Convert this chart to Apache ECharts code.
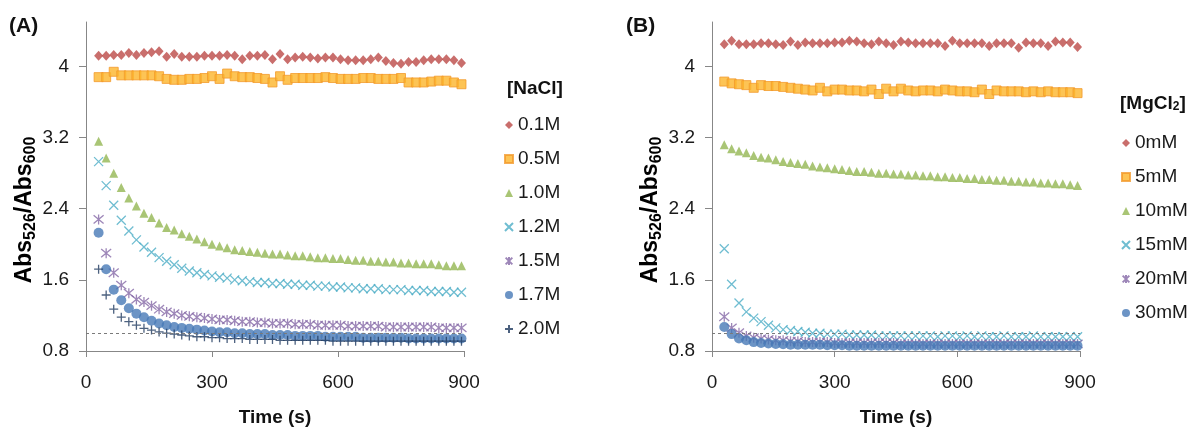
<!DOCTYPE html>
<html>
<head>
<meta charset="utf-8">
<script src="https://cdn.jsdelivr.net/npm/echarts@6/dist/echarts.min.js"></script>
<style>
  html, body { margin: 0; padding: 0; background: #fff; }
  #chart { width: 1191px; height: 432px; }
</style>
</head>
<body>
<div id="chart"></div>
<script>
// Sampling times (s), shared by both panels
const time = [
  30, 48, 66, 84, 102, 120, 138, 156, 174, 192,
  210, 228, 246, 264, 282, 300, 318, 336, 354, 372,
  390, 408, 426, 444, 462, 480, 498, 516, 534, 552,
  570, 588, 606, 624, 642, 660, 678, 696, 714, 732,
  750, 768, 786, 804, 822, 840, 858, 876, 894
];

const yTicks = [0.8, 1.6, 2.4, 3.2, 4];
const xTicks = [0, 300, 600, 900];

// Panel A: [NaCl]
const naclLabels = ['0.1M', '0.5M', '1.0M', '1.2M', '1.5M', '1.7M', '2.0M'];
const nacl01 = [
  4.12, 4.12, 4.13, 4.13, 4.15, 4.13, 4.15, 4.16, 4.17, 4.11,
  4.14, 4.11, 4.11, 4.11, 4.12, 4.12, 4.12, 4.13, 4.12, 4.08,
  4.12, 4.12, 4.13, 4.08, 4.14, 4.08, 4.10, 4.11, 4.10, 4.09,
  4.10, 4.10, 4.08, 4.07, 4.07, 4.07, 4.08, 4.10, 4.06, 4.04,
  4.03, 4.05, 4.05, 4.07, 4.08, 4.08, 4.08, 4.07, 4.04
];
const nacl05 = [
  3.88, 3.88, 3.94, 3.90, 3.90, 3.90, 3.90, 3.90, 3.89, 3.86,
  3.85, 3.85, 3.86, 3.86, 3.87, 3.89, 3.86, 3.92, 3.89, 3.88,
  3.88, 3.87, 3.86, 3.82, 3.89, 3.85, 3.87, 3.87, 3.87, 3.87,
  3.88, 3.87, 3.86, 3.86, 3.86, 3.87, 3.87, 3.86, 3.86, 3.86,
  3.87, 3.82, 3.82, 3.82, 3.83, 3.84, 3.84, 3.82, 3.80
];
const nacl10 = [
  3.16, 2.97, 2.80, 2.64, 2.52, 2.43, 2.35, 2.30, 2.24, 2.19,
  2.16, 2.12, 2.09, 2.06, 2.03, 2.00, 1.98, 1.96, 1.94, 1.93,
  1.92, 1.91, 1.90, 1.89, 1.89, 1.88, 1.87, 1.87, 1.86, 1.85,
  1.85, 1.84, 1.84, 1.83, 1.82, 1.82, 1.81, 1.81, 1.80, 1.80,
  1.79, 1.79, 1.78, 1.78, 1.78, 1.77, 1.76, 1.76, 1.76
];
const nacl12 = [
  2.93, 2.66, 2.44, 2.27, 2.15, 2.05, 1.97, 1.91, 1.85, 1.81,
  1.77, 1.73, 1.70, 1.68, 1.66, 1.645, 1.63, 1.62, 1.60, 1.59,
  1.58, 1.57, 1.57, 1.56, 1.56, 1.55, 1.55, 1.54, 1.54, 1.53,
  1.53, 1.52, 1.52, 1.51, 1.51, 1.50, 1.50, 1.50, 1.49, 1.49,
  1.49, 1.48, 1.48, 1.48, 1.47, 1.47, 1.47, 1.46, 1.46
];
const nacl15 = [
  2.28, 1.90, 1.68, 1.54, 1.45, 1.38, 1.35, 1.31, 1.27, 1.24,
  1.22, 1.20, 1.19, 1.18, 1.17, 1.16, 1.15, 1.15, 1.14, 1.13,
  1.13, 1.12, 1.12, 1.11, 1.11, 1.11, 1.10, 1.10, 1.10, 1.09,
  1.09, 1.09, 1.09, 1.08, 1.08, 1.08, 1.08, 1.08, 1.07, 1.07,
  1.07, 1.07, 1.07, 1.07, 1.07, 1.06, 1.06, 1.06, 1.06
];
const nacl17 = [
  2.13, 1.72, 1.49, 1.37, 1.28, 1.22, 1.18, 1.14, 1.11, 1.09,
  1.07, 1.06, 1.05, 1.04, 1.03, 1.02, 1.01, 1.01, 1.00, 1.00,
  0.99, 0.99, 0.99, 0.98, 0.98, 0.98, 0.97, 0.97, 0.97, 0.97,
  0.96, 0.96, 0.96, 0.96, 0.96, 0.95, 0.95, 0.95, 0.95, 0.95,
  0.95, 0.94, 0.94, 0.94, 0.94, 0.94, 0.94, 0.94, 0.94
];
const nacl20 = [
  1.72, 1.43, 1.27, 1.18, 1.13, 1.09, 1.055, 1.035, 1.015, 1.00,
  0.99, 0.98, 0.97, 0.96, 0.96, 0.95, 0.95, 0.94, 0.94, 0.94,
  0.93, 0.93, 0.93, 0.93, 0.92, 0.92, 0.92, 0.92, 0.92, 0.92,
  0.92, 0.91, 0.91, 0.91, 0.91, 0.91, 0.91, 0.91, 0.91, 0.91,
  0.91, 0.91, 0.91, 0.91, 0.91, 0.91, 0.91, 0.91, 0.91
];

// Panel B: [MgCl2]
const mgLabels = ['0mM', '5mM', '10mM', '15mM', '20mM', '30mM'];
const mg0 = [
  4.25, 4.29, 4.25, 4.25, 4.25, 4.26, 4.26, 4.25, 4.24, 4.28,
  4.24, 4.27, 4.26, 4.26, 4.26, 4.27, 4.27, 4.29, 4.28, 4.26,
  4.25, 4.28, 4.26, 4.24, 4.28, 4.27, 4.26, 4.26, 4.26, 4.26,
  4.23, 4.29, 4.26, 4.26, 4.26, 4.26, 4.23, 4.26, 4.26, 4.26,
  4.21, 4.27, 4.26, 4.26, 4.23, 4.28, 4.27, 4.27, 4.22
];
const mg5 = [
  3.83, 3.81, 3.80, 3.79, 3.76, 3.79, 3.78, 3.78, 3.77, 3.76,
  3.75, 3.74, 3.73, 3.76, 3.72, 3.74, 3.74, 3.73, 3.73, 3.72,
  3.74, 3.69, 3.75, 3.72, 3.75, 3.73, 3.72, 3.73, 3.73, 3.72,
  3.74, 3.73, 3.72, 3.72, 3.71, 3.74, 3.69, 3.73, 3.72, 3.72,
  3.72, 3.71, 3.72, 3.71, 3.72, 3.71, 3.71, 3.71, 3.70
];
const mg10 = [
  3.12, 3.075, 3.05, 3.03, 3.00, 2.98, 2.97, 2.95, 2.93, 2.92,
  2.91, 2.90, 2.88, 2.87, 2.86, 2.85, 2.84, 2.83, 2.82, 2.82,
  2.81, 2.80, 2.80, 2.79, 2.79, 2.78, 2.78, 2.77, 2.77, 2.76,
  2.76, 2.75, 2.75, 2.74, 2.74, 2.73, 2.73, 2.72, 2.72, 2.71,
  2.71, 2.70, 2.70, 2.69, 2.69, 2.68, 2.68, 2.67, 2.66
];
const mg15 = [
  1.95, 1.55, 1.34, 1.24, 1.17, 1.13, 1.09, 1.06, 1.04, 1.03,
  1.02, 1.01, 1.00, 1.00, 0.99, 0.99, 0.99, 0.98, 0.98, 0.98,
  0.98, 0.97, 0.97, 0.97, 0.97, 0.97, 0.97, 0.97, 0.97, 0.96,
  0.97, 0.97, 0.96, 0.97, 0.96, 0.97, 0.96, 0.96, 0.97, 0.96,
  0.96, 0.96, 0.97, 0.96, 0.96, 0.96, 0.96, 0.96, 0.96
];
const mg20 = [
  1.185, 1.06, 1.005, 0.97, 0.95, 0.94, 0.93, 0.92, 0.92, 0.91,
  0.91, 0.90, 0.90, 0.90, 0.90, 0.89, 0.89, 0.89, 0.89, 0.89,
  0.89, 0.89, 0.89, 0.89, 0.88, 0.88, 0.88, 0.88, 0.88, 0.88,
  0.88, 0.88, 0.88, 0.88, 0.88, 0.88, 0.88, 0.88, 0.88, 0.88,
  0.88, 0.88, 0.88, 0.88, 0.88, 0.88, 0.88, 0.88, 0.88
];
const mg30 = [
  1.07, 0.99, 0.94, 0.92, 0.90, 0.89, 0.885, 0.88, 0.875, 0.87,
  0.87, 0.87, 0.87, 0.87, 0.865, 0.865, 0.865, 0.86, 0.86, 0.86,
  0.86, 0.86, 0.86, 0.86, 0.86, 0.86, 0.86, 0.86, 0.86, 0.86,
  0.86, 0.86, 0.86, 0.86, 0.86, 0.86, 0.86, 0.86, 0.86, 0.86,
  0.86, 0.86, 0.86, 0.86, 0.86, 0.86, 0.86, 0.86, 0.86
];

const FONT = '"Liberation Sans", Arial, sans-serif';

// Marker styles, in series order (Excel-like palette)
const markers = [
  { symbol: 'diamond', size: [9, 10], color: '#BC4A47' },
  { symbol: 'rect', size: 9, color: '#FDB52A', border: '#F39A2C' },
  { symbol: 'triangle', size: 9, color: '#93B752' },
  { symbol: 'path://M0,0L10,10M10,0L0,10', size: 9, stroke: '#4BACC6' },
  { symbol: 'path://M0,0L10,10M10,0L0,10M5,-1L5,11', size: 10, stroke: '#8468A6' },
  { symbol: 'circle', size: 10, color: '#4779B6' },
  { symbol: 'path://M5,0L5,10M0,5L10,5', size: 9, stroke: '#1F3A5F' }
];

function pair(values) {
  return time.map((t, i) => [t, values[i]]);
}

function makeSeries(name, values, m, gridIndex, withRefLine) {
  const itemStyle = m.stroke
    ? { color: 'rgba(0,0,0,0)', borderColor: m.stroke, borderWidth: 1.3 }
    : { color: m.color, borderColor: m.border || m.color, borderWidth: m.border ? 1 : 0 };
  const s = {
    name: name,
    type: 'scatter',
    xAxisIndex: gridIndex,
    yAxisIndex: gridIndex,
    symbol: m.symbol,
    symbolSize: m.size,
    itemStyle: itemStyle,
    emphasis: { disabled: true },
    data: pair(values)
  };
  if (withRefLine) {
    s.markLine = {
      silent: true,
      symbol: 'none',
      label: { show: false },
      lineStyle: { color: '#7a7a7a', type: [3, 3], width: 1 },
      data: [{ yAxis: 1.0 }]
    };
  }
  return s;
}

const naclData = [nacl01, nacl05, nacl10, nacl12, nacl15, nacl17, nacl20];
const mgData = [mg0, mg5, mg10, mg15, mg20, mg30];

const series = [];
naclData.forEach((v, i) => series.push(makeSeries(naclLabels[i], v, markers[i], 0, i === 0)));
mgData.forEach((v, i) => series.push(makeSeries(mgLabels[i], v, markers[i], 1, i === 0)));

function xAxis(gridIndex) {
  return {
    type: 'value', gridIndex: gridIndex,
    min: 0, max: 900, interval: 300,
    name: 'Time (s)', nameLocation: 'middle', nameGap: 57,
    nameTextStyle: { fontFamily: FONT, fontSize: 19, fontWeight: 'bold', color: '#111' },
    axisLine: { onZero: false, lineStyle: { color: '#878787', width: 1 } },
    axisTick: { show: true, length: 6, customValues: xTicks, lineStyle: { color: '#878787' } },
    axisLabel: { fontFamily: FONT, fontSize: 19, color: '#1a1a1a', margin: 22, customValues: xTicks },
    splitLine: { show: false }
  };
}

function yAxis(gridIndex) {
  return {
    type: 'value', gridIndex: gridIndex,
    min: 0.8, max: 4.5,
    axisLine: { show: true, lineStyle: { color: '#878787', width: 1 } },
    axisTick: { show: true, length: 7, customValues: yTicks, lineStyle: { color: '#878787' } },
    axisLabel: {
      fontFamily: FONT, fontSize: 19, color: '#1a1a1a', margin: 17,
      customValues: yTicks,
      formatter: v => String(Math.round(v * 10) / 10)
    },
    splitLine: { show: false }
  };
}

const yTitleRich = {
  b: { fontFamily: FONT, fontSize: 23, fontWeight: 'bold', color: '#111', lineHeight: 27 },
  s: { fontFamily: FONT, fontSize: 16, fontWeight: 'bold', color: '#111', lineHeight: 16, verticalAlign: 'bottom', padding: [6, 0, 0, 0] }
};
const yTitleText = '{b|Abs}{s|526}{b|/Abs}{s|600}';

function yTitle(x) {
  return {
    type: 'text', x: x, y: 210, rotation: Math.PI / 2,
    style: { text: yTitleText, rich: yTitleRich, align: 'center', verticalAlign: 'middle' }
  };
}

function legend(left, top, names) {
  return {
    orient: 'vertical', left: left, top: top,
    data: names, itemWidth: 8, itemHeight: 8, itemGap: 14,
    selectedMode: false, padding: 0,
    textStyle: { fontFamily: FONT, fontSize: 19, color: '#1a1a1a', lineHeight: 20 }
  };
}

const titleStyle = { fontFamily: FONT, fontSize: 21, fontWeight: 'bold', color: '#111' };

const option = {
  backgroundColor: '#ffffff',
  animation: false,
  title: [
    { text: '(A)', left: 9, top: 16, padding: 0, textStyle: titleStyle },
    { text: '(B)', left: 626, top: 16, padding: 0, textStyle: titleStyle },
    { text: '[NaCl]', left: 507, top: 79, padding: 0,
      textStyle: { fontFamily: FONT, fontSize: 19, fontWeight: 'bold', color: '#111' } },
    { text: '[MgCl{sub|2}]', left: 1120, top: 94, padding: 0,
      textStyle: { fontFamily: FONT, fontSize: 19, fontWeight: 'bold', color: '#111',
        rich: { sub: { fontFamily: FONT, fontSize: 12, fontWeight: 'bold', color: '#111', verticalAlign: 'bottom', lineHeight: 12 } } } }
  ],
  grid: [
    { left: 86, top: 22, width: 378, height: 329 },
    { left: 712, top: 22, width: 368, height: 329 }
  ],
  xAxis: [xAxis(0), xAxis(1)],
  yAxis: [yAxis(0), yAxis(1)],
  legend: [legend(504, 115, naclLabels), legend(1121, 133, mgLabels)],
  graphic: [yTitle(25), yTitle(651)],
  series: series
};

const chart = echarts.init(document.getElementById('chart'), null, { renderer: 'canvas' });
chart.setOption(option);
</script>
</body>
</html>
